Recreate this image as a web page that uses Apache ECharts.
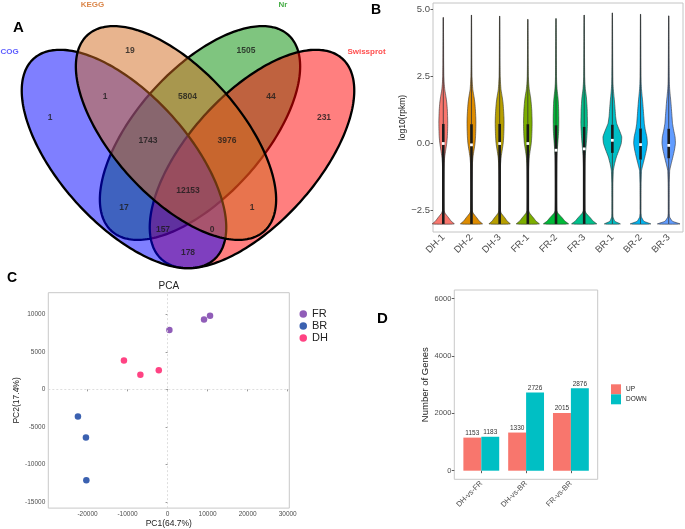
<!DOCTYPE html>
<html><head><meta charset="utf-8">
<script src="https://cdn.jsdelivr.net/npm/echarts@6/dist/echarts.min.js"></script>
<style>html,body{margin:0;padding:0;background:#fff}#c{width:685px;height:529px}</style>
</head><body><div id="c"></div>
<script>
// ================= DATA =================
// Panel A: Venn
const vennSets = ['COG', 'KEGG', 'Nr', 'Swissprot'];
const vennCounts = [1, 19, 1505, 231, 1, 5804, 44, 1743, 3976, 12153, 17, 1, 157, 0, 178];

// Panel B: violin (log10 rpkm) – density
const samples = ['DH-1', 'DH-2', 'DH-3', 'FR-1', 'FR-2', 'FR-3', 'BR-1', 'BR-2', 'BR-3'];
const yLevels = [-3.0, -2.9, -2.75, -2.6, -2.5, -2.0, -1.5, -1.0, -0.75, -0.5, -0.25, 0, 0.25, 0.5, 0.75, 1.0, 1.25, 1.5, 1.75, 2.0, 2.25, 2.5, 3.0, 4.0];
const densDH1 = [0.87, 0.63, 0.39, 0.14, 0.06, 0.04, 0.04, 0.055, 0.07, 0.11, 0.19, 0.27, 0.32, 0.34, 0.35, 0.34, 0.32, 0.28, 0.21, 0.12, 0.07, 0.045, 0.03, 0.02];
const densDH2 = [0.87, 0.63, 0.39, 0.14, 0.06, 0.04, 0.04, 0.055, 0.075, 0.12, 0.2, 0.28, 0.32, 0.34, 0.35, 0.34, 0.31, 0.27, 0.2, 0.11, 0.07, 0.045, 0.03, 0.02];
const densDH3 = [0.84, 0.61, 0.38, 0.13, 0.06, 0.04, 0.04, 0.055, 0.075, 0.12, 0.2, 0.28, 0.32, 0.34, 0.35, 0.34, 0.31, 0.27, 0.2, 0.11, 0.07, 0.045, 0.03, 0.02];
const densFR1 = [0.91, 0.66, 0.41, 0.15, 0.06, 0.04, 0.04, 0.055, 0.075, 0.115, 0.19, 0.27, 0.31, 0.33, 0.34, 0.33, 0.31, 0.27, 0.21, 0.12, 0.07, 0.045, 0.03, 0.02];
const densFR2 = [0.99, 0.72, 0.45, 0.16, 0.06, 0.04, 0.04, 0.05, 0.055, 0.07, 0.1, 0.14, 0.18, 0.21, 0.22, 0.22, 0.21, 0.19, 0.15, 0.09, 0.055, 0.04, 0.03, 0.02];
const densFR3 = [0.99, 0.72, 0.45, 0.16, 0.06, 0.04, 0.04, 0.05, 0.06, 0.08, 0.12, 0.17, 0.21, 0.24, 0.26, 0.25, 0.24, 0.21, 0.17, 0.1, 0.06, 0.04, 0.03, 0.02];
const densBR1 = [0.63, 0.2, 0.06, 0.04, 0.04, 0.04, 0.045, 0.08, 0.18, 0.32, 0.52, 0.7, 0.74, 0.55, 0.34, 0.26, 0.22, 0.18, 0.13, 0.08, 0.05, 0.04, 0.03, 0.02];
const densBR2 = [0.81, 0.27, 0.08, 0.04, 0.04, 0.04, 0.045, 0.08, 0.21, 0.34, 0.46, 0.54, 0.5, 0.38, 0.3, 0.26, 0.22, 0.18, 0.13, 0.08, 0.05, 0.04, 0.03, 0.02];
const densBR3 = [0.89, 0.3, 0.08, 0.04, 0.04, 0.04, 0.045, 0.08, 0.2, 0.33, 0.45, 0.53, 0.5, 0.39, 0.3, 0.26, 0.22, 0.18, 0.13, 0.08, 0.05, 0.04, 0.03, 0.02];
const violinDensity = [densDH1, densDH2, densDH3, densFR1, densFR2, densFR3, densBR1, densBR2, densBR3];
const vMin = [-3, -3, -3, -3, -3, -3, -3, -3, -3];
const vQ1 = [-3, -3, -3, -3, -3, -3, -0.35, -0.6, -0.55];
const vMedian = [0.0, -0.05, 0.0, 0.0, -0.25, -0.2, 0.12, -0.04, -0.07];
const vQ3 = [0.73, 0.72, 0.73, 0.72, 0.68, 0.62, 0.7, 0.56, 0.55];
const vMax = [4.70, 4.79, 4.75, 4.63, 4.66, 4.79, 4.87, 4.82, 4.76];
const violinTicks = [-2.5, 0, 2.5, 5];

// Panel C: PCA
const pcaFR = [[450, 7900], [9100, 9300], [10600, 9800]];
const pcaBR = [[-22400, -3600], [-20400, -6400], [-20300, -12100]];
const pcaDH = [[-10900, 3850], [-6800, 1950], [-2200, 2550]];
const pcaXTicks = [-20000, -10000, 0, 10000, 20000, 30000];
const pcaYTicks = [-15000, -10000, -5000, 0, 5000, 10000];

// Panel D: DEG counts
const degComparisons = ['DH-vs-FR', 'DH-vs-BR', 'FR-vs-BR'];
const degUp = [1153, 1330, 2015];
const degDown = [1183, 2726, 2876];
const degTicks = [0, 2000, 4000, 6000];

// ================= LAYOUT / STYLE =================
const FONT = '"Liberation Sans", Arial, Helvetica, sans-serif';
// Venn geometry (panel-A coordinate space, y downward): cx, cy, semi-major, semi-minor, angle
const ellipseGeom = {
  COG: [124, 159, 135, 64.5, 48],
  KEGG: [176, 133, 132, 63.5, 48],
  Nr: [200, 133, 132, 63.5, -48],
  Swissprot: [252, 159, 135, 64.5, -48]
};
const drawOrder = ['Nr', 'Swissprot', 'COG', 'KEGG'];
const setFill = { COG: 'rgba(0,0,255,0.5)', KEGG: 'rgba(210,105,30,0.5)', Nr: 'rgba(0,139,0,0.5)', Swissprot: 'rgba(255,0,0,0.5)' };
const setText = { COG: '#3333ff', KEGG: '#D2691E', Nr: '#1a9a1a', Swissprot: '#ff2020' };
const setLabelPos = { COG: [9.5, 52], KEGG: [92.5, 5], Nr: [283, 5], Swissprot: [366.5, 52] };
const vennLabelPos = [[50, 118], [130, 51], [246, 51], [324, 118], [105, 97], [187.5, 97], [271, 97], [148, 141], [227, 141], [188, 191], [124, 208], [252, 208], [163, 230], [212, 230], [188, 253]];
const violinColors = ['#F8766D', '#DE8C00', '#B79F00', '#7CAE00', '#00BA38', '#00C08B', '#00BFC4', '#00B4F0', '#619CFF'];
const pcaColors = { FR: '#7434A6', BR: '#0A3A9C', DH: '#FF1464' };

const chart = echarts.init(document.getElementById('c'), null, { renderer: 'canvas' });

function renderEllipse(params, api) {
  const name = drawOrder[params.dataIndex];
  const [cx, cy, a, b, deg] = ellipseGeom[name];
  const th = deg * Math.PI / 180;
  const pts = [];
  for (let k = 0; k < 240; k++) {
    const t = k / 240 * 2 * Math.PI;
    const x = cx + a * Math.cos(t) * Math.cos(th) - b * Math.sin(t) * Math.sin(th);
    const y = cy + a * Math.cos(t) * Math.sin(th) + b * Math.sin(t) * Math.cos(th);
    pts.push(api.coord([x, y]));
  }
  return {
    type: 'polygon',
    shape: { points: pts },
    style: { fill: setFill[name], stroke: '#000', lineWidth: 2.3 }
  };
}

function renderViolin(params, api) {
  const i = params.dataIndex;
  const band = api.size([1, 0])[0];
  const cx = api.coord([i, 0])[0];
  const levels = yLevels.concat([vMax[i]]);
  const d = violinDensity[i].concat([0.01]);
  const right = [], left = [];
  for (let j = 0; j < levels.length; j++) {
    const py = api.coord([i, levels[j]])[1];
    const hw = d[j] * band * 0.45;
    right.push([cx + hw, py]);
    left.push([cx - hw, py]);
  }
  const pts = right.concat(left.reverse());
  const yMin = api.coord([i, vMin[i]])[1];
  const yQ1 = api.coord([i, vQ1[i]])[1];
  const yQ3 = api.coord([i, vQ3[i]])[1];
  const yMax = api.coord([i, vMax[i]])[1];
  const yMed = api.coord([i, vMedian[i]])[1];
  const children = [
    { type: 'polygon', shape: { points: pts, smooth: 0.15 }, style: { fill: violinColors[i], stroke: '#333', lineWidth: 0.6 } },
    { type: 'line', shape: { x1: cx, y1: yQ3, x2: cx, y2: yMax }, style: { stroke: '#333', lineWidth: 0.8 } }
  ];
  if (yMin - yQ1 > 0.5) children.push({ type: 'line', shape: { x1: cx, y1: yQ1, x2: cx, y2: yMin }, style: { stroke: '#333', lineWidth: 0.8 } });
  children.push({ type: 'rect', shape: { x: cx - 1.3, y: yQ3, width: 2.6, height: yQ1 - yQ3 }, style: { fill: '#1a1a1a' } });
  children.push({ type: 'rect', shape: { x: cx - 1.4, y: yMed - 1.4, width: 2.8, height: 2.8 }, style: { fill: '#fff' } });
  return { type: 'group', children };
}

const axisLabelStyle = { color: '#4d4d4d', fontFamily: FONT };
const negFmt = v => (v < 0 ? '\u2212' + Math.abs(v).toFixed(1) : v.toFixed(1));
const plainFmt = v => String(v);

const option = {
  animation: false,
  backgroundColor: '#fff',
  textStyle: { fontFamily: FONT },
  grid: [
    { left: 0, top: 0, width: 400, height: 270, show: false },                 // 0 venn
    { left: 433, top: 3, width: 250, height: 229, show: true, borderColor: '#c4c4c4', borderWidth: 1, backgroundColor: 'transparent' }, // 1 violin frame
    { left: 429.2, top: 3, width: 253.6, height: 229, show: false },           // 2 violins
    { left: 48.3, top: 292.7, width: 241, height: 216.6, show: true, borderColor: '#c8c8c8', borderWidth: 1 }, // 3 pca
    { left: 454.3, top: 290, width: 143.4, height: 189.3, show: true, borderColor: '#c8c8c8', borderWidth: 1 }, // 4 deg frame
    { left: 458.9, top: 290, width: 134.4, height: 189.3, show: false }        // 5 deg bars
  ],
  xAxis: [
    { gridIndex: 0, type: 'value', min: 0, max: 400, show: false },
    { gridIndex: 1, type: 'value', min: 0, max: 1, show: false },
    {
      gridIndex: 2, type: 'category', data: samples, boundaryGap: true,
      axisLine: { show: false },
      axisTick: { show: true, alignWithLabel: true, length: 2.5, lineStyle: { color: '#333', width: 0.8 } },
      axisLabel: { rotate: 45, fontSize: 9.5, margin: 4, interval: 0, ...axisLabelStyle }
    },
    {
      gridIndex: 3, type: 'value', min: -29800, max: 30400,
      axisLine: { show: false }, splitLine: { show: false },
      axisTick: { show: true, customValues: pcaXTicks, length: 2, lineStyle: { color: '#555', width: 0.6 } },
      axisLabel: { customValues: pcaXTicks, fontSize: 6.5, margin: 3, formatter: plainFmt, ...axisLabelStyle },
      name: 'PC1(64.7%)', nameLocation: 'middle', nameGap: 10,
      nameTextStyle: { fontSize: 8.5, color: '#222', fontFamily: FONT }
    },
    { gridIndex: 4, type: 'value', min: 0, max: 1, show: false },
    {
      gridIndex: 5, type: 'category', data: degComparisons, boundaryGap: true,
      axisLine: { show: false },
      axisTick: { show: true, alignWithLabel: true, length: 2.5, lineStyle: { color: '#333', width: 0.8 } },
      axisLabel: { rotate: 45, fontSize: 7.5, margin: 3, interval: 0, ...axisLabelStyle }
    }
  ],
  yAxis: [
    { gridIndex: 0, type: 'value', min: 0, max: 270, inverse: true, show: false },
    {
      gridIndex: 1, type: 'value', min: -3.3, max: 5.24,
      axisLine: { show: false }, splitLine: { show: false },
      axisTick: { show: true, customValues: violinTicks, length: 2.5, lineStyle: { color: '#333', width: 0.8 } },
      axisLabel: { customValues: violinTicks, fontSize: 9.5, margin: 3, formatter: negFmt, ...axisLabelStyle },
      name: 'log10(rpkm)', nameLocation: 'middle', nameGap: 26,
      nameTextStyle: { fontSize: 8.5, color: '#222', fontFamily: FONT }
    },
    { gridIndex: 2, type: 'value', min: -3.3, max: 5.24, show: false },
    {
      gridIndex: 3, type: 'value', min: -15800, max: 12860,
      axisLine: { show: false }, splitLine: { show: false },
      axisTick: { show: true, customValues: pcaYTicks, length: 2, lineStyle: { color: '#555', width: 0.6 } },
      axisLabel: { customValues: pcaYTicks, fontSize: 6.5, margin: 3, formatter: plainFmt, ...axisLabelStyle },
      name: 'PC2(17.4%)', nameLocation: 'middle', nameGap: 18,
      nameTextStyle: { fontSize: 8.5, color: '#222', fontFamily: FONT }
    },
    {
      gridIndex: 4, type: 'value', min: -300, max: 6300,
      axisLine: { show: false }, splitLine: { show: false },
      axisTick: { show: true, customValues: degTicks, length: 2.5, lineStyle: { color: '#333', width: 0.8 } },
      axisLabel: { customValues: degTicks, fontSize: 7.5, margin: 3, formatter: plainFmt, ...axisLabelStyle },
      name: 'Number of Genes', nameLocation: 'middle', nameGap: 20,
      nameTextStyle: { fontSize: 9.5, color: '#222', fontFamily: FONT }
    },
    { gridIndex: 5, type: 'value', min: -300, max: 6300, show: false }
  ],
  legend: [
    {
      data: ['FR', 'BR', 'DH'], orient: 'vertical', left: 294.5, top: 303.5,
      icon: 'circle', itemWidth: 7.5, itemHeight: 7.5, itemGap: 1,
      textStyle: { fontSize: 11, color: '#222', fontFamily: FONT }
    },
    {
      data: ['UP', 'DOWN'], orient: 'vertical', left: 606, top: 379.3,
      icon: 'rect', itemWidth: 10, itemHeight: 10, itemGap: 0,
      textStyle: { fontSize: 6.5, color: '#222', fontFamily: FONT }
    }
  ],
  graphic: [
    { type: 'text', left: 13, top: 20, style: { text: 'A', font: 'bold 15px ' + FONT, fill: '#000' } },
    { type: 'text', left: 371, top: 3, style: { text: 'B', font: 'bold 14px ' + FONT, fill: '#000' } },
    { type: 'text', left: 7, top: 271, style: { text: 'C', font: 'bold 14px ' + FONT, fill: '#000' } },
    { type: 'text', left: 377, top: 311, style: { text: 'D', font: 'bold 15px ' + FONT, fill: '#000' } },
    { type: 'text', x: 168.8, y: 286.7, style: { text: 'PCA', font: '10px ' + FONT, fill: '#222', align: 'center', verticalAlign: 'middle' } }
  ],
  series: [
    // ---- A: Venn ellipses
    {
      type: 'custom', xAxisIndex: 0, yAxisIndex: 0, clip: false, silent: true,
      renderItem: renderEllipse,
      data: drawOrder.map(n => [ellipseGeom[n][0], ellipseGeom[n][1]])
    },
    // ---- A: region counts
    {
      type: 'scatter', xAxisIndex: 0, yAxisIndex: 0, symbolSize: 1, silent: true,
      itemStyle: { color: 'transparent' },
      label: { show: true, position: 'inside', formatter: p => String(p.value[2]), fontSize: 8.5, fontWeight: 'bold', color: '#1a1a1a', fontFamily: FONT },
      data: vennCounts.map((c, i) => [vennLabelPos[i][0], vennLabelPos[i][1], c]),
      z: 5
    },
    // ---- A: set names
    {
      type: 'scatter', xAxisIndex: 0, yAxisIndex: 0, symbolSize: 1, silent: true,
      itemStyle: { color: 'transparent' },
      label: { show: true, position: 'inside', formatter: p => p.name, fontSize: 8, fontWeight: 'bold', fontFamily: FONT },
      data: vennSets.map(n => ({ name: n, value: setLabelPos[n], label: { color: setText[n] } })),
      z: 5
    },
    // ---- B: violins
    {
      type: 'custom', xAxisIndex: 2, yAxisIndex: 2, clip: false, silent: true,
      renderItem: renderViolin,
      data: samples.map((s, i) => [i, vMedian[i]])
    },
    // ---- C: PCA
    {
      name: 'FR', type: 'scatter', xAxisIndex: 3, yAxisIndex: 3, symbolSize: 6.5,
      itemStyle: { color: pcaColors.FR }, data: pcaFR, z: 4,
      markLine: {
        silent: true, symbol: 'none', label: { show: false },
        lineStyle: { type: [2, 2], color: '#d6d6d6', width: 0.8 },
        data: [{ xAxis: 0 }, { yAxis: 0 }]
      }
    },
    { name: 'BR', type: 'scatter', xAxisIndex: 3, yAxisIndex: 3, symbolSize: 6.5, itemStyle: { color: pcaColors.BR }, data: pcaBR, z: 4 },
    { name: 'DH', type: 'scatter', xAxisIndex: 3, yAxisIndex: 3, symbolSize: 6.5, itemStyle: { color: pcaColors.DH }, data: pcaDH, z: 4 },
    // ---- D: bars
    {
      name: 'UP', type: 'bar', xAxisIndex: 5, yAxisIndex: 5, data: degUp,
      barGap: '0%', barCategoryGap: '20%', itemStyle: { color: '#F8766D' },
      label: { show: true, position: 'top', distance: 1, fontSize: 6.5, color: '#333', fontFamily: FONT }
    },
    {
      name: 'DOWN', type: 'bar', xAxisIndex: 5, yAxisIndex: 5, data: degDown,
      barGap: '0%', barCategoryGap: '20%', itemStyle: { color: '#00BFC4' },
      label: { show: true, position: 'top', distance: 1, fontSize: 6.5, color: '#333', fontFamily: FONT }
    }
  ]
};
chart.setOption(option);
</script>
</body></html>
